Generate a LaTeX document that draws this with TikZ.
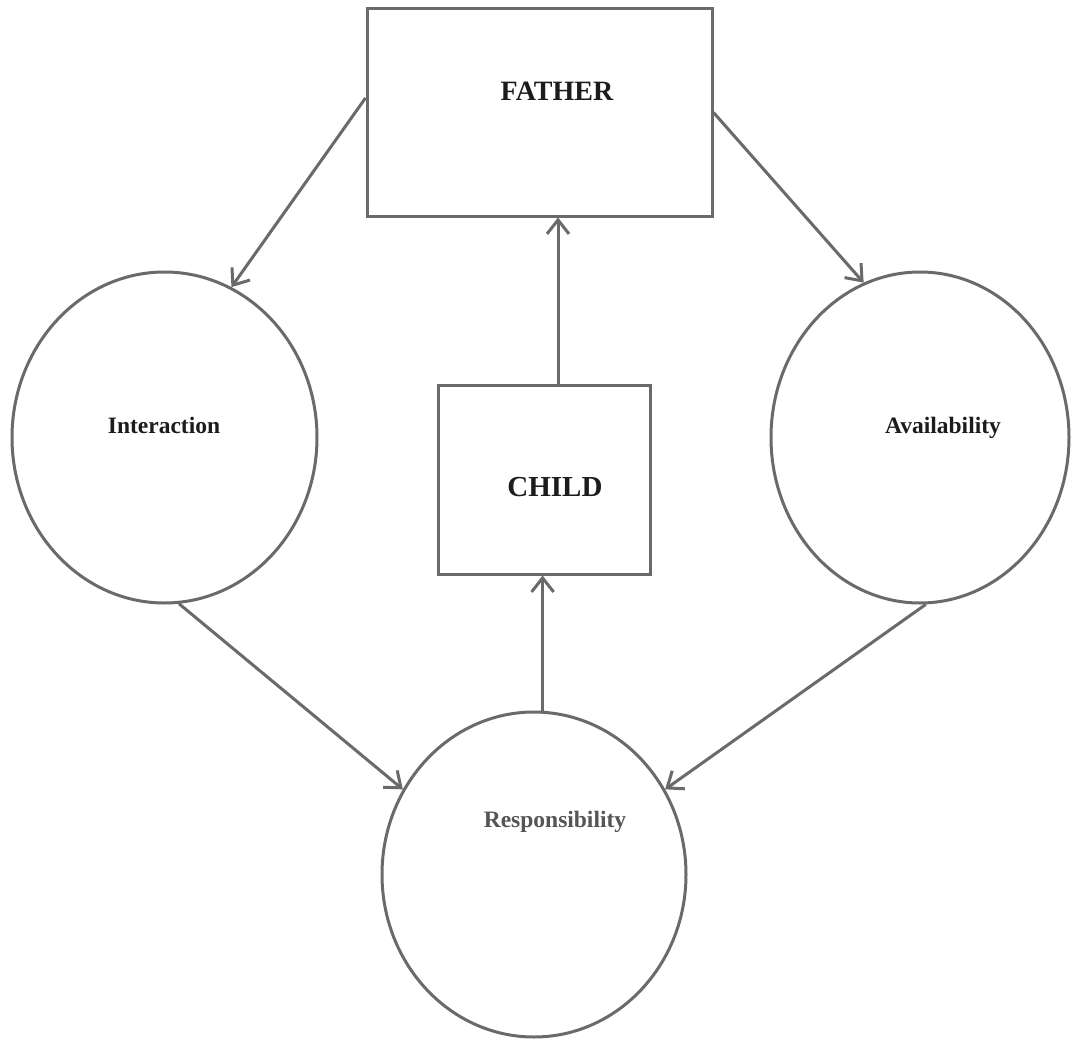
\documentclass[tikz,border=0pt]{standalone}
\usepackage{fontspec}
\setmainfont{Liberation Serif}
\usetikzlibrary{arrows.meta,shapes.geometric}
\definecolor{linegray}{HTML}{6A6A6A}
\definecolor{txtdark}{HTML}{1C1C1C}
\definecolor{txtgray}{HTML}{555555}
\tikzset{
  box/.style={draw=linegray,line width=3pt,rectangle,inner sep=0pt},
  oval/.style={draw=linegray,line width=3pt,ellipse,inner sep=0pt},
  lbl/.style={anchor=base,inner sep=0pt,text=txtdark,font=\bfseries},
  arr/.style={draw=linegray,line width=3pt,-{Straight Barb[length=14pt,width=22pt]}}
}
\begin{document}
\begin{tikzpicture}[x=1pt,y=-1pt]
\useasboundingbox (0,0) rectangle (1072,1041);
\fill[white] (0,0) rectangle (1072,1041);
% shapes
\node[box,minimum width=345pt,minimum height=207pt] (father) at (539.5,112.5) {};
\node[box,minimum width=212pt,minimum height=189pt] (child) at (544,479.5) {};
\node[oval,minimum width=305pt,minimum height=331pt] (inter) at (164.5,437.5) {};
\node[oval,minimum width=298pt,minimum height=331pt] (avail) at (920,437.5) {};
\node[oval,minimum width=304pt,minimum height=325pt] (resp) at (534,874.5) {};
% labels
\node[lbl,font=\bfseries\fontsize{28}{30}\selectfont] (tfather) at (557,100) {FATHER};
\node[lbl,font=\bfseries\fontsize{29}{31}\selectfont] (tchild) at (555,496) {CHILD};
\node[lbl,font=\bfseries\fontsize{23.5}{26}\selectfont] (tinter) at (164,433) {Interaction};
\node[lbl,font=\bfseries\fontsize{23.5}{26}\selectfont] (tavail) at (943,433) {Availability};
\node[lbl,text=txtgray,font=\bfseries\fontsize{23.5}{26}\selectfont] (tresp) at (555,827) {Responsibility};
% connectors
\draw[arr] ([yshift=14.5pt]father.west) -- (inter.66);
\draw[arr] (father.east) -- (avail.110);
\draw[arr] ([xshift=14pt]child.north) -- ([xshift=14pt]child.north |- father.south);
\draw[arr] (resp.87) -- (resp.87 |- child.south);
\draw[arr] (inter.275.6) -- (resp.147);
\draw[arr] (avail.272.5) -- (resp.33);
\end{tikzpicture}
\end{document}
